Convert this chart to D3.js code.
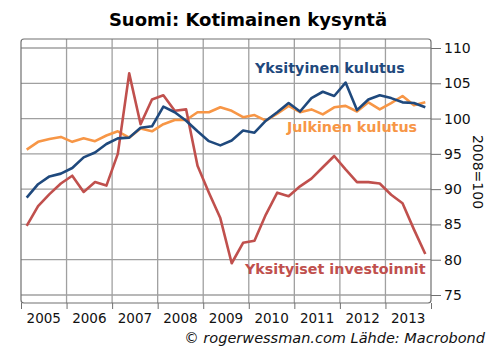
<!DOCTYPE html>
<html>
<head>
<meta charset="utf-8">
<script src="https://cdn.jsdelivr.net/npm/d3@7"></script>
<style>
body { margin: 0; background: #fff; }
svg { display: block; font-family: "DejaVu Sans", Verdana, sans-serif; }
</style>
</head>
<body>
<div id="chart"></div>
<script>
// quarterly, 2005Q1 .. 2013Q4, 2008 = 100
var years = [2005, 2006, 2007, 2008, 2009, 2010, 2011, 2012, 2013];
var yTicks = [75, 80, 85, 90, 95, 100, 105, 110];

var yksityinenKulutus = [88.8, 90.7, 91.8, 92.2, 93.0, 94.5, 95.2, 96.4, 97.2, 97.3, 98.7, 98.9,
	101.7, 100.9, 99.7, 98.2, 96.8, 96.2, 96.9, 98.3, 98.0, 99.7, 100.9, 102.2,
	101.0, 102.9, 103.8, 103.2, 105.1, 101.2, 102.7, 103.3, 102.9, 102.3, 102.2, 101.6];
var julkinenKulutus = [95.6, 96.7, 97.1, 97.4, 96.7, 97.2, 96.8, 97.6, 98.2, 97.3, 98.6, 98.2,
	99.2, 99.8, 99.8, 100.9, 100.9, 101.6, 101.1, 100.2, 100.5, 99.7, 100.7, 101.8,
	100.9, 101.3, 100.6, 101.6, 101.8, 101.0, 102.3, 101.3, 102.2, 103.2, 101.9, 102.3];
var yksityisetInvestoinnit = [84.8, 87.6, 89.3, 90.8, 91.9, 89.6, 91.0, 90.5, 95.0, 106.4, 99.2, 102.7,
	103.3, 101.1, 101.3, 93.3, 89.5, 85.9, 79.5, 82.4, 82.7, 86.4, 89.5, 89.0,
	90.4, 91.5, 93.1, 94.7, 92.8, 91.0, 91.0, 90.8, 89.2, 88.0, 84.3, 80.8];

var w = 496, h = 361;
var frame = {left: 21, right: 431, top: 39, bottom: 303};

var svg = d3.select("#chart").append("svg")
	.attr("width", w)
	.attr("height", h);

svg.append("rect").attr("width", w).attr("height", h).attr("fill", "#fff");

var x = d3.scaleLinear().domain([2005, 2014]).range([frame.left, frame.right]);
var y = d3.scaleLinear().domain([75, 110]).range([295, 48]);

function qx(d, i) { return x(2005 + (i + 0.5) / 4); }

// grid
var grid = svg.append("g").attr("class", "grid");
grid.selectAll(".hgrid")
	.data(yTicks).enter()
	.append("line")
	.attr("x1", frame.left).attr("x2", frame.right)
	.attr("y1", function(d) { return y(d); })
	.attr("y2", function(d) { return y(d); })
	.attr("stroke", "#a0a0a0").attr("stroke-width", 1.3);
grid.selectAll(".vgrid")
	.data(years.slice(1)).enter()
	.append("line")
	.attr("y1", frame.top).attr("y2", frame.bottom)
	.attr("x1", function(d) { return x(d); })
	.attr("x2", function(d) { return x(d); })
	.attr("stroke", "#a0a0a0").attr("stroke-width", 1.3);

// frame
svg.append("rect")
	.attr("x", frame.left).attr("y", frame.top)
	.attr("width", frame.right - frame.left)
	.attr("height", frame.bottom - frame.top)
	.attr("rx", 3)
	.attr("fill", "none").attr("stroke", "#707070").attr("stroke-width", 1.2);

// right axis
var yAxis = d3.axisRight(y).tickValues(yTicks).tickSize(10).tickPadding(3);
var ya = svg.append("g")
	.attr("transform", "translate(" + frame.right + ",0)")
	.call(yAxis);
ya.select(".domain").remove();
ya.selectAll("line").attr("stroke", "#707070").attr("x1", 0);
ya.selectAll("text").attr("font-size", "14px").attr("fill", "#111")
	.attr("font-family", "DejaVu Sans");

// bottom ticks and year labels
var xAxis = d3.axisBottom(x).tickValues(years.concat([2014])).tickSize(6).tickFormat("");
var xa = svg.append("g")
	.attr("transform", "translate(0," + frame.bottom + ")")
	.call(xAxis);
xa.select(".domain").remove();
xa.selectAll("line").attr("stroke", "#707070");

svg.selectAll(".year")
	.data(years).enter()
	.append("text")
	.attr("x", function(d) { return x(d + 0.5); })
	.attr("y", 323)
	.attr("text-anchor", "middle")
	.attr("font-size", "13.5px")
	.attr("fill", "#111")
	.text(function(d) { return d; });

// lines
var series = [
	{values: julkinenKulutus, color: "#f79646"},
	{values: yksityisetInvestoinnit, color: "#c0504d"},
	{values: yksityinenKulutus, color: "#1f497d"}
];
var line = d3.line().x(qx).y(function(d) { return y(d); });
svg.selectAll(".series")
	.data(series).enter()
	.append("path")
	.attr("d", function(s) { return line(s.values); })
	.attr("fill", "none")
	.attr("stroke", function(s) { return s.color; })
	.attr("stroke-width", 2.6)
	.attr("stroke-linejoin", "round");

// labels
function label(txt, xPos, yPos, color) {
	svg.append("text")
		.attr("x", xPos).attr("y", yPos)
		.attr("font-size", "14.3px")
		.attr("font-weight", "bold")
		.attr("fill", color)
		.text(txt);
}
label("Yksityinen kulutus", 255, 73, "#1f497d");
label("Julkinen kulutus", 287, 132, "#f79646");
label("Yksityiset investoinnit", 245, 274, "#c0504d");

svg.append("text")
	.attr("x", 248).attr("y", 26)
	.attr("text-anchor", "middle")
	.attr("font-size", "18px")
	.attr("font-weight", "bold")
	.attr("fill", "#000")
	.text("Suomi: Kotimainen kysyntä");

svg.append("text")
	.attr("transform", "translate(473,172) rotate(90)")
	.attr("text-anchor", "middle")
	.attr("font-size", "14px")
	.attr("fill", "#111")
	.text("2008=100");

svg.append("text")
	.attr("x", 485).attr("y", 343)
	.attr("text-anchor", "end")
	.attr("font-size", "14.5px")
	.attr("font-style", "italic")
	.attr("fill", "#111")
	.text("© rogerwessman.com Lähde: Macrobond");
</script>
</body>
</html>
